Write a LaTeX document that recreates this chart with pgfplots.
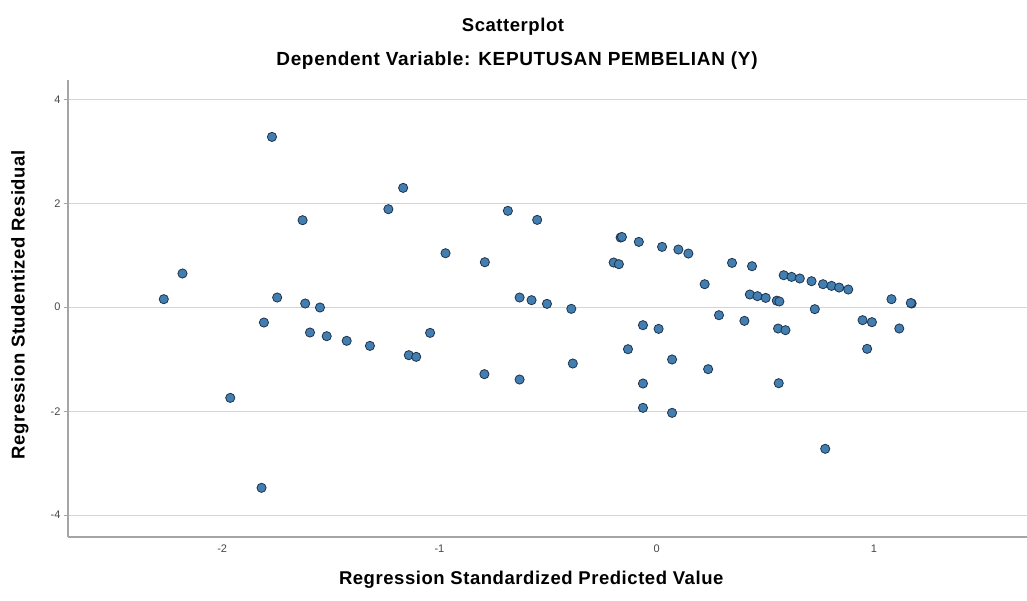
\documentclass[border=0pt]{standalone}
\usepackage{fontspec}
\setmainfont{Liberation Sans}
\usepackage{pgfplots}
\pgfplotsset{compat=1.18}
\definecolor{dotfill}{RGB}{66,126,175}
\definecolor{dotedge}{RGB}{30,52,78}
\definecolor{axisgray}{RGB}{165,165,165}
\definecolor{gridgray}{RGB}{212,212,212}
\definecolor{ticktext}{RGB}{70,70,70}
\newcommand{\bigbold}{\fontsize{18.5}{21}\selectfont\bfseries\addfontfeature{LetterSpace=3}}
\begin{document}
\begin{tikzpicture}
\useasboundingbox (0pt,0pt) rectangle (1027pt,601pt);
\node[font=\bigbold] at (513pt,574pt) {Scatterplot};
\node[font=\fontsize{19}{21}\selectfont\bfseries\addfontfeature{LetterSpace=3.5}] at (517pt,540pt) {Dependent Variable: KEPUTUSAN PEMBELIAN (Y)};
\begin{axis}[
  scale only axis,
  width=959pt, height=457pt,
  at={(68pt,64pt)}, anchor=south west,
  xmin=-2.71, xmax=1.705,
  ymin=-4.42, ymax=4.37,
  axis x line=bottom, axis y line=left,
  axis line style={-, draw=axisgray, line width=1.6pt},
  xtick={-2,-1,0,1}, ytick={-4,-2,0,2,4},
  ymajorgrids,
  grid style={draw=gridgray, line width=1pt},
  xtick style={draw=none},
  ytick style={draw=axisgray, line width=0.8pt},
  tick align=outside,
  major tick length=4pt,
  tick label style={font=\fontsize{11}{13}\selectfont, text=ticktext},
  /pgf/number format/assume math mode=true,
  xlabel={Regression Standardized Predicted Value},
  ylabel={Regression Studentized Residual},
  label style={font=\bigbold},
  xlabel style={at={(axis description cs:0.483,0)}, anchor=center, yshift=-43pt},
  ylabel style={at={(axis description cs:0,0.508)}, anchor=center, yshift=48pt},
  clip=false,
]
\addplot[only marks, mark=*, mark size=4.6pt,
  mark options={fill=dotfill, draw=dotedge, line width=0.8pt}] coordinates {
(-2.269,0.154) (-2.183,0.648) (-1.963,-1.744) (-1.819,-3.474)
(-1.808,-0.295) (-1.771,3.275) (-1.747,0.186) (-1.630,1.673)
(-1.618,0.071) (-1.596,-0.487) (-1.550,-0.006) (-1.519,-0.558)
(-1.427,-0.647) (-1.320,-0.744) (-1.235,1.885) (-1.167,2.295)
(-1.141,-0.923) (-1.107,-0.955) (-1.043,-0.494) (-0.972,1.038)
(-0.793,-1.288) (-0.791,0.865) (-0.685,1.853) (-0.631,0.186)
(-0.631,-1.391) (-0.576,0.135) (-0.550,1.679) (-0.505,0.064)
(-0.393,-0.032) (-0.386,-1.083) (-0.198,0.859) (-0.174,0.827)
(-0.166,1.340) (-0.160,1.350) (-0.132,-0.808) (-0.082,1.256)
(-0.063,-0.346) (-0.063,-1.468) (-0.063,-1.936) (0.009,-0.417)
(0.025,1.160) (0.071,-1.006) (0.071,-2.032) (0.100,1.109)
(0.146,1.032) (0.221,0.442) (0.237,-1.192) (0.287,-0.154)
(0.347,0.852) (0.404,-0.263) (0.429,0.244) (0.439,0.788)
(0.464,0.212) (0.502,0.179) (0.553,0.125) (0.565,0.110)
(0.559,-0.410) (0.562,-1.462) (0.585,0.615) (0.593,-0.442)
(0.621,0.583) (0.659,0.552) (0.713,0.500) (0.728,-0.038)
(0.766,0.442) (0.776,-2.724) (0.805,0.410) (0.840,0.378)
(0.882,0.340) (0.948,-0.250) (0.969,-0.801) (0.991,-0.288)
(1.081,0.154) (1.117,-0.410) (1.174,0.071) (1.170,0.080)
};
\end{axis}
\end{tikzpicture}
\end{document}
